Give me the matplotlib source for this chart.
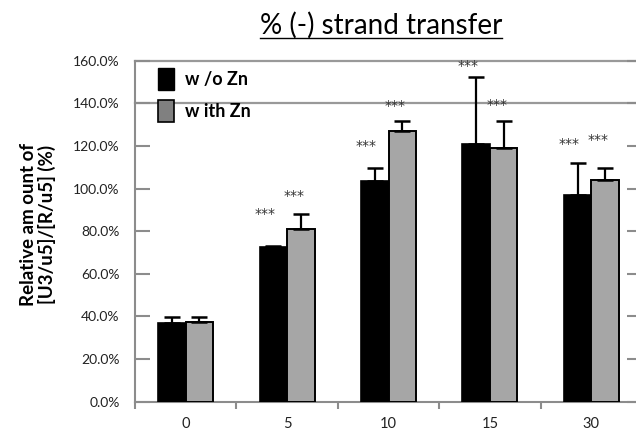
import matplotlib
matplotlib.use('Agg')
import matplotlib.pyplot as plt
from matplotlib.patches import Patch
from matplotlib.lines import Line2D
import numpy as np

plt.rcParams['font.family'] = ['Lato', 'DejaVu Sans']

# data
times = ['0', '5', '10', '15', '30']
wo_zn = [37.1, 72.7, 103.7, 120.9, 96.9]
wo_zn_err = [2.5, 0.5, 6.1, 31.3, 15.0]
with_zn = [37.5, 81.0, 127.2, 118.9, 104.0]
with_zn_err = [2.1, 6.9, 4.5, 12.8, 5.8]
# where the *** marks sit (None = no mark)
stars_wo = [None, 89.6, 121.7, 159.4, 122.5]
stars_with = [None, 98.4, 140.3, 141.1, 124.7]
grid_levels = [140, 160]
legend_labels = ['w /o Zn', 'w ith Zn']

fig = plt.figure(figsize=(6.36, 4.30), dpi=100)
ax = fig.add_axes([135/636, 28.3/430, 507/636, 341/430])

x = np.arange(len(times))
w = 0.271
ax.bar(x - w/2, wo_zn, w, color='black', edgecolor='black', linewidth=1.2,
       yerr=[np.zeros(len(x)), wo_zn_err], capsize=6,
       error_kw=dict(elinewidth=1.6, capthick=1.8, ecolor='black'), zorder=3)
ax.bar(x + w/2, with_zn, w, color='#a6a6a6', edgecolor='black', linewidth=1.4,
       yerr=[np.zeros(len(x)), with_zn_err], capsize=6,
       error_kw=dict(elinewidth=1.6, capthick=1.8, ecolor='black'), zorder=3)

# stars: asterisk glyph sits high, so anchor on baseline and shift down
for i in range(len(x)):
    if stars_wo[i] is not None:
        ax.annotate('***', (x[i] - w/2, stars_wo[i]), xytext=(-6, -5.5),
                    textcoords='offset points', ha='center', va='baseline',
                    fontsize=10, color='#333333', family='DejaVu Sans')
    if stars_with[i] is not None:
        ax.annotate('***', (x[i] + w/2, stars_with[i]), xytext=(-5, -5.5),
                    textcoords='offset points', ha='center', va='baseline',
                    fontsize=10, color='#333333', family='DejaVu Sans')

for lv in grid_levels:
    ax.axhline(lv, color='#999999', linewidth=1.6, zorder=1, clip_on=False)

ax.set_xlim(-0.5, len(times) - 0.5)
ax.set_ylim(0, 160)
ax.set_yticks(np.arange(0, 161, 20))
ax.set_yticklabels(['%.1f%%' % v for v in np.arange(0, 161, 20)], fontsize=10)
ax.set_xticks(np.arange(-0.5, len(times), 1.0))
ax.set_xticklabels([])
ax.set_xticks(x, minor=True)
ax.set_xticklabels(times, minor=True, fontsize=10.5)

gray = '#8c8c8c'
for s in ['top', 'right']:
    ax.spines[s].set_visible(False)
for s in ['left', 'bottom']:
    ax.spines[s].set_color(gray)
    ax.spines[s].set_linewidth(1.5)
ax.tick_params(axis='y', which='major', direction='in', length=11, width=1.5,
               color=gray, pad=11, labelcolor='#222222', right=True)
ax.tick_params(axis='x', which='major', direction='out', length=5, width=1.5,
               color=gray)
ax.tick_params(axis='x', which='minor', length=0, pad=11, labelcolor='#222222')

ax.set_ylabel('Relative am ount of\n[U3/u5]/[R/u5] (%)', fontsize=13.5,
              fontweight='bold', va='center', linespacing=1.05)
ax.yaxis.set_label_coords(-0.191, 0.52)

handles = [Patch(facecolor='black', edgecolor='black'),
           Patch(facecolor='#808080', edgecolor='black', linewidth=1.2)]
ax.legend(handles, legend_labels, loc='upper left',
          bbox_to_anchor=(0.045, 1 - 7/341), borderaxespad=0, borderpad=0,
          frameon=False, handlelength=0.9, handleheight=1.5,
          labelspacing=0.55, handletextpad=0.6,
          prop=dict(size=13, weight='bold'))

title = fig.text(381/636, 1 - 25/430, '% (-) strand transfer', ha='center',
                 va='center', fontsize=20)

fig.canvas.draw()
bb = title.get_window_extent().transformed(fig.transFigure.inverted())
fig.add_artist(Line2D([bb.x0, bb.x1], [bb.y0 + 0.002, bb.y0 + 0.002],
                      transform=fig.transFigure, color='black', linewidth=1.0))

fig.savefig('out.png', dpi=100)
